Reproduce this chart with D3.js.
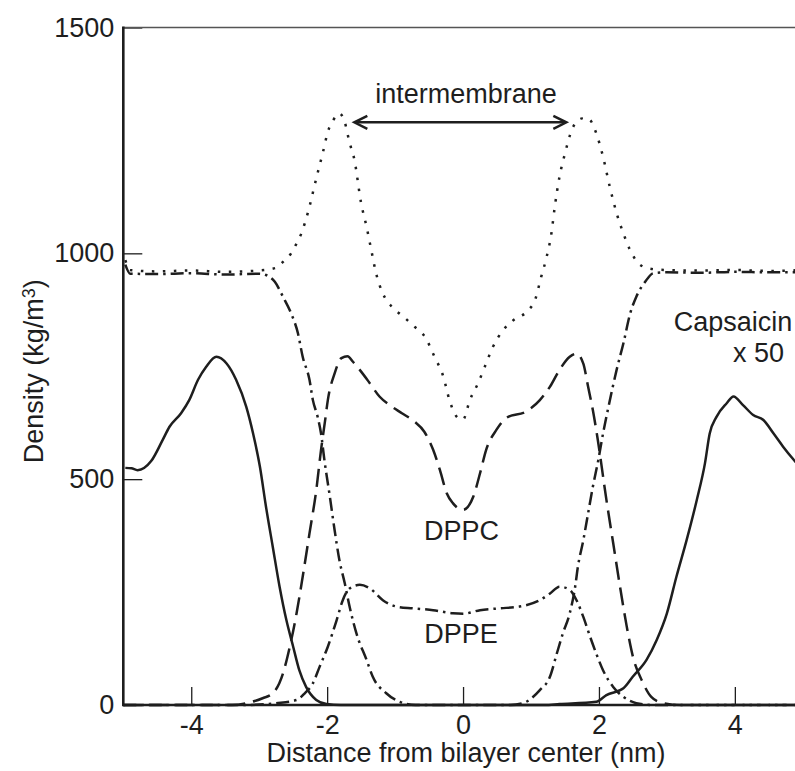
<!DOCTYPE html>
<html>
<head>
<meta charset="utf-8">
<script src="https://cdn.jsdelivr.net/npm/d3@7"></script>
<style>
  body { margin: 0; background: #fff; }
  svg { display: block; }
</style>
</head>
<body>
<div id="chart"></div>
<script>
// density profiles: [distance (nm), density (kg/m3)]
const totalDensity = [
  [-4.97, 985], [-4.9, 963], [-4.5, 960], [-4.0, 962], [-3.5, 959], [-3.0, 962],
  [-2.75, 968], [-2.65, 981], [-2.53, 1000], [-2.45, 1022], [-2.38, 1044], [-2.28, 1092],
  [-2.16, 1166], [-2.06, 1225], [-1.99, 1269], [-1.91, 1295], [-1.82, 1310], [-1.74, 1290],
  [-1.67, 1245], [-1.60, 1208], [-1.50, 1111], [-1.42, 1059], [-1.35, 1007], [-1.28, 956],
  [-1.18, 911], [-1.05, 882], [-0.88, 860], [-0.71, 837], [-0.56, 815], [-0.42, 771],
  [-0.29, 727], [-0.20, 675], [-0.07, 635], [0, 632], [0.10, 675], [0.22, 712],
  [0.32, 749], [0.44, 793], [0.59, 830], [0.74, 852], [0.96, 874], [1.06, 897],
  [1.15, 948], [1.23, 992], [1.30, 1044], [1.35, 1103], [1.42, 1170], [1.50, 1221],
  [1.60, 1273], [1.72, 1297], [1.80, 1300], [1.87, 1295], [1.96, 1266], [2.06, 1214],
  [2.16, 1147], [2.26, 1089], [2.36, 1044], [2.46, 1007], [2.58, 978], [2.75, 966],
  [3.0, 963], [3.5, 962], [4.0, 963], [4.5, 961], [5.0, 963]
];

const waterDensity = [
  [-4.97, 975], [-4.9, 955], [-4.5, 954], [-4.0, 956], [-3.5, 953], [-3.0, 955],
  [-2.90, 952], [-2.77, 937], [-2.65, 904], [-2.53, 867], [-2.43, 823], [-2.36, 771],
  [-2.26, 720], [-2.21, 675], [-2.14, 638], [-2.09, 601], [-2.04, 542], [-1.96, 461],
  [-1.89, 387], [-1.82, 321], [-1.74, 269], [-1.67, 218], [-1.57, 159], [-1.42, 100],
  [-1.33, 63], [-1.13, 26], [-0.93, 7], [-0.7, 0], [0.7, 0], [0.88, 4],
  [1.13, 33], [1.28, 63], [1.38, 114], [1.47, 159], [1.57, 203], [1.65, 262],
  [1.69, 306], [1.77, 365], [1.84, 424], [1.91, 483], [1.99, 542], [2.06, 601],
  [2.14, 660], [2.26, 742], [2.36, 801], [2.46, 867], [2.55, 904], [2.68, 937],
  [2.80, 956], [3.0, 958], [3.5, 957], [4.0, 959], [4.5, 958], [5.0, 958]
];

const dppcDensity = [
  [-5, 0], [-3.4, 0], [-3.19, 4], [-2.95, 15], [-2.80, 26], [-2.65, 70],
  [-2.55, 129], [-2.45, 203], [-2.36, 284], [-2.26, 380], [-2.16, 476], [-2.09, 565],
  [-2.03, 630], [-1.99, 675], [-1.89, 734], [-1.79, 768], [-1.70, 772], [-1.62, 760],
  [-1.52, 742], [-1.37, 712], [-1.23, 683], [-1.08, 664], [-0.90, 646], [-0.72, 628],
  [-0.57, 605], [-0.44, 565], [-0.34, 520], [-0.24, 469], [-0.15, 447], [0, 432],
  [0.15, 461], [0.25, 513], [0.34, 565], [0.49, 609], [0.64, 636], [0.93, 650],
  [1.13, 675], [1.28, 705], [1.42, 742], [1.57, 771], [1.67, 778], [1.77, 756],
  [1.84, 705], [1.91, 653], [1.98, 590], [2.11, 454], [2.21, 358], [2.31, 262],
  [2.41, 173], [2.50, 107], [2.63, 55], [2.77, 18], [2.95, 4], [3.2, 0], [5, 0]
];

const dppeDensity = [
  [-5, 0], [-3.2, 0], [-2.75, 4], [-2.45, 11], [-2.33, 26], [-2.21, 48],
  [-2.11, 85], [-1.99, 129], [-1.86, 188], [-1.77, 232], [-1.67, 258], [-1.52, 266],
  [-1.37, 258], [-1.18, 232], [-0.98, 218], [-0.74, 214], [-0.44, 210], [-0.15, 203],
  [0, 202], [0.25, 210], [0.54, 214], [0.83, 218], [1.13, 232], [1.28, 247],
  [1.42, 262], [1.57, 255], [1.67, 232], [1.77, 195], [1.87, 151], [1.96, 114],
  [2.06, 77], [2.21, 40], [2.36, 18], [2.55, 4], [2.8, 0], [5, 0]
];

// capsaicin, scaled x 50
const capsaicinDensity = [
  [-4.97, 525], [-4.88, 524], [-4.79, 520], [-4.59, 540], [-4.42, 587], [-4.32, 616],
  [-4.15, 646], [-4.03, 675], [-3.90, 720], [-3.78, 749], [-3.63, 771], [-3.48, 756],
  [-3.34, 720], [-3.19, 660], [-3.09, 601], [-2.99, 528], [-2.90, 439], [-2.80, 350],
  [-2.70, 262], [-2.60, 188], [-2.50, 129], [-2.41, 77], [-2.31, 40], [-2.16, 11],
  [-2.01, 2], [-1.8, 0], [1.2, 0], [1.42, 2], [1.96, 7], [2.11, 22],
  [2.36, 37], [2.50, 63], [2.70, 100], [2.85, 144], [3.00, 203], [3.14, 284],
  [3.29, 365], [3.44, 454], [3.56, 535], [3.63, 601], [3.73, 638], [3.88, 668],
  [3.98, 683], [4.12, 664], [4.27, 642], [4.42, 631], [4.57, 601], [4.71, 572],
  [4.86, 544], [5.0, 520]
];

const xTicks = [-4, -2, 0, 2, 4];
const yTicks = [0, 500, 1000, 1500];

// 1. SVG
const W = 795, H = 771;
const ink = '#1e1e1e';
const font = '"Liberation Sans", Arial, Helvetica, sans-serif';
const fontSize = '27px';

const svg = d3.select('#chart').append('svg')
  .attr('width', W).attr('height', H)
  .style('font-family', font);

// 2. SCALES (right end of the axis runs past the picture edge)
const x = d3.scaleLinear().domain([-5, 5]).range([123.3, 802.8]);
const y = d3.scaleLinear().domain([0, 1500]).range([705, 27.5]);

// 3. AXES - ticks point inward
const xAxis = svg.append('g')
  .attr('transform', `translate(0,${y(0)})`)
  .call(d3.axisBottom(x).tickValues(xTicks).tickSize(-18).tickSizeOuter(0)
    .tickPadding(10).tickFormat(d => String(d)));

const yAxis = svg.append('g')
  .attr('transform', `translate(${x(-5)},0)`)
  .call(d3.axisLeft(y).tickValues(yTicks).tickSize(-19).tickSizeOuter(0)
    .tickPadding(9).tickFormat(d => String(d)));

[xAxis, yAxis].forEach(a => {
  a.select('.domain').remove();
  a.selectAll('line').attr('stroke', ink).attr('stroke-width', 1.3);
  a.selectAll('text').attr('fill', ink).style('font-size', fontSize).style('font-family', font);
});

// frame lines
svg.append('line')
  .attr('x1', x(-5)).attr('x2', W).attr('y1', y(1500)).attr('y2', y(1500))
  .attr('stroke', '#555').attr('stroke-width', 1.5);
svg.append('line')
  .attr('x1', x(-5)).attr('x2', W).attr('y1', y(0)).attr('y2', y(0))
  .attr('stroke', ink).attr('stroke-width', 2.6);
svg.append('line')
  .attr('x1', x(-5)).attr('x2', x(-5)).attr('y1', y(1500) - 1).attr('y2', y(0) + 1.3)
  .attr('stroke', ink).attr('stroke-width', 2.6);

// 4. CURVES
const line = d3.line()
  .x(d => x(d[0]))
  .y(d => y(d[1]))
  .curve(d3.curveMonotoneX);

const curves = [
  { data: totalDensity, dash: '2.5,8.5' },
  { data: waterDensity, dash: '13,5,2.5,5' },
  { data: dppcDensity, dash: '18,8' },
  { data: dppeDensity, dash: '13,5,2.5,5' },
  { data: capsaicinDensity, dash: null }
];

svg.append('g').selectAll('path')
  .data(curves)
  .join('path')
  .attr('d', d => line(d.data))
  .attr('fill', 'none')
  .attr('stroke', ink)
  .attr('stroke-width', 2.5)
  .attr('stroke-dasharray', d => d.dash);

// 5. ARROW (intermembrane)
const ay = y(1290);
const ax1 = x(-1.6), ax2 = x(1.52);
svg.append('line')
  .attr('x1', ax1 + 1).attr('x2', ax2 - 1).attr('y1', ay).attr('y2', ay)
  .attr('stroke', ink).attr('stroke-width', 2.5);
svg.append('path')
  .attr('d', `M${ax1 + 13},${ay - 6.5} L${ax1},${ay} L${ax1 + 13},${ay + 6.5}`)
  .attr('fill', 'none').attr('stroke', ink).attr('stroke-width', 2.5);
svg.append('path')
  .attr('d', `M${ax2 - 13},${ay - 6.5} L${ax2},${ay} L${ax2 - 13},${ay + 6.5}`)
  .attr('fill', 'none').attr('stroke', ink).attr('stroke-width', 2.5);

// 6. LABELS
const label = (tx, ty, str, anchor = 'middle') => svg.append('text')
  .attr('x', tx).attr('y', ty)
  .attr('text-anchor', anchor)
  .attr('fill', ink)
  .style('font-size', fontSize)
  .text(str);

label(466, 103, 'intermembrane');
label(461.5, 540, 'DPPC');
label(461, 643, 'DPPE');
label(733, 331, 'Capsaicin');
label(733, 362, 'x 50', 'start');

label(466, 762, 'Distance from bilayer center (nm)');

const yTitle = svg.append('text')
  .attr('transform', `translate(43,${(y(0) + y(1500)) / 2 + 5}) rotate(-90)`)
  .attr('text-anchor', 'middle')
  .attr('fill', ink)
  .style('font-size', fontSize);
yTitle.append('tspan').text('Density (kg/m');
yTitle.append('tspan').attr('dy', '-0.45em').style('font-size', '18px').text('3');
yTitle.append('tspan').attr('dy', '0.3em').text(')');
</script>
</body>
</html>
